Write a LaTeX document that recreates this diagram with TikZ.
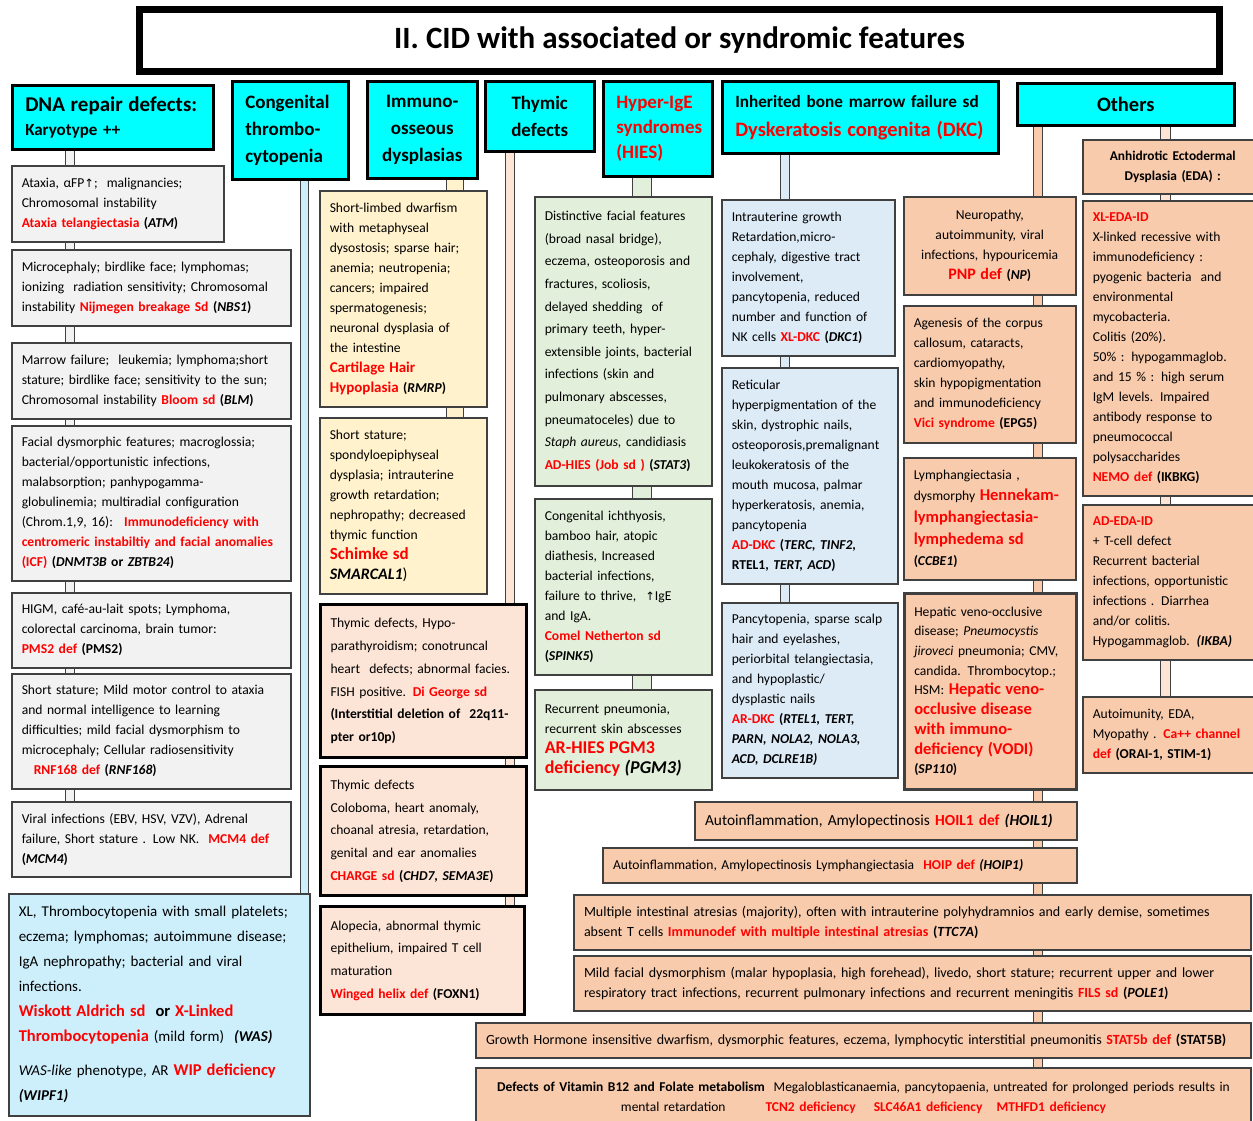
\documentclass[tikz,border=0pt]{standalone}
\usepackage{fontspec}
\setmainfont{Carlito}
\newfontfamily\symfont{DejaVu Sans}
\usetikzlibrary{positioning,backgrounds}

\definecolor{hdrcyan}{HTML}{00FFFF}
\definecolor{boxgray}{HTML}{F2F2F2}
\definecolor{wasblue}{HTML}{CDEFFC}
\definecolor{iocream}{HTML}{FFF2CC}
\definecolor{thypink}{HTML}{FCE4D6}
\definecolor{hiesgreen}{HTML}{E2EFDA}
\definecolor{dkcblue}{HTML}{DDEBF7}
\definecolor{othorange}{HTML}{F8CBAD}
\definecolor{edgegray}{HTML}{404040}
\definecolor{namered}{HTML}{FF0000}

\newcommand{\fs}[2]{\fontsize{#1}{#2}\selectfont}
\newcommand{\dis}[1]{\textcolor{namered}{\textbf{#1}}}
\newcommand{\gen}[1]{\textbf{(\textit{#1})}}
\newcommand{\uparr}{{\symfont\fs{11.5}{12}↑}}

\begin{document}
\begin{tikzpicture}[x=1pt, y=-1pt,
    boxwh/.code 2 args={\pgfmathsetmacro\cellw{#1-20}\tikzset{minimum width=#1pt, minimum height=#2pt, text width=\cellw pt}},
    hdrwh/.code 2 args={\pgfmathsetmacro\cellw{#1-26}\tikzset{minimum width=#1pt, minimum height=#2pt, text width=\cellw pt}},
    txtcell/.style={anchor=north west, inner xsep=10pt, inner ysep=0pt, align=left, font=\fs{13.6}{20}},
    hdr/.style={txtcell, inner xsep=13pt, draw=black, line width=2.5pt, fill=hdrcyan, font=\bfseries\fs{19}{27}},
    graycell/.style={txtcell, draw=edgegray, line width=1.5pt, fill=boxgray},
    wascell/.style={txtcell, draw=edgegray, line width=1.5pt, fill=wasblue},
    creamcell/.style={txtcell, draw=edgegray, line width=1.5pt, fill=iocream},
    pinkcell/.style={txtcell, draw=black, line width=3pt, fill=thypink, font=\fs{13.6}{22.7}},
    greencell/.style={txtcell, draw=edgegray, line width=1.5pt, fill=hiesgreen},
    dkccell/.style={txtcell, draw=edgegray, line width=1.5pt, fill=dkcblue},
    othcell/.style={txtcell, draw=edgegray, line width=1.5pt, fill=othorange},
    pipe/.style={draw=edgegray, line width=1pt, double=#1}]

    \useasboundingbox (0,0) rectangle (1253,1120);

    % Title
    \node[draw=black, line width=7pt, fill=white, minimum width=1080pt, minimum height=62pt,
          font=\bfseries\fs{31}{36}] (title) at (679.5,40.5) {II. CID with associated or syndromic features};

    % Headers
    \node[hdr, hdrwh={201}{64}, font=\bfseries\fs{17}{24}] (dna) at (11,84) {{\fs{21}{24}DNA repair defects:}\\Karyotype ++};
    \node[hdr, hdrwh={116}{98}] (ct) at (231,80) {Congenital\\thrombo-\\cytopenia};
    \node[hdr, hdrwh={110}{97}, align=center] (io) at (366,80) {Immuno-\\osseous\\dysplasias};
    \node[hdr, hdrwh={109}{70}, align=center] (thy) at (484,80) {Thymic\\defects};
    \node[hdr, hdrwh={109}{95}, text=namered, font=\bfseries\fs{19}{25}] (hies) at (602,80) {Hyper-IgE\\syndromes\\(HIES)};
    \node[hdr, hdrwh={276}{72}, inner xsep=12pt, font=\bfseries\fs{17.2}{29}] (dkc) at (721,80) {Inherited bone marrow failure sd\\{\fs{20.5}{29}\color{namered}Dyskeratosis congenita (DKC)}};
    \node[hdr, hdrwh={217}{42}, align=center, font=\bfseries\fs{20.5}{24}] (oth) at (1016,82) {Others};

    % DNA repair defects
    \node[graycell, boxwh={212}{76}] (g1) at (11,165) {Ataxia, αFP\uparr; \ malignancies;\\Chromosomal instability\\\dis{Ataxia telangiectasia} \gen{ATM}};
    \node[graycell, boxwh={279}{76}] (g2) at (11,249) {Microcephaly; birdlike face; lymphomas;\\ionizing \ radiation sensitivity; Chromosomal\\instability \dis{Nijmegen breakage Sd} \gen{NBS1}};
    \node[graycell, boxwh={279}{76}] (g3) at (11,342) {Marrow failure; \ leukemia; lymphoma;short\\stature; birdlike face; sensitivity to the sun;\\Chromosomal instability \dis{Bloom sd} \gen{BLM}};
    \node[graycell, boxwh={279}{155}] (g4) at (11,425) {Facial dysmorphic features; macroglossia;\\bacterial/opportunistic infections,\\malabsorption; panhypogamma-\\globulinemia; multiradial configuration\\(Chrom.1,9, 16): \ \dis{Immunodeficiency with}\\\dis{centromeric instabiltiy and facial anomalies}\\\dis{(ICF)} \textbf{(\textit{DNMT3B} or \textit{ZBTB24})}};
    \node[graycell, boxwh={279}{75}] (g5) at (11,592) {HIGM, café-au-lait spots; Lymphoma,\\colorectal carcinoma, brain tumor:\\\dis{PMS2 def} \textbf{(PMS2)}};
    \node[graycell, boxwh={279}{115}] (g6) at (11,673) {Short stature; Mild motor control to ataxia\\and normal intelligence to learning\\difficulties; mild facial dysmorphism to\\microcephaly; Cellular radiosensitivity\\\hspace*{12pt}\dis{RNF168 def} \gen{RNF168}};
    \node[graycell, boxwh={279}{75}] (g7) at (11,801) {Viral infections (EBV, HSV, VZV), Adrenal\\failure, Short stature . Low NK. \ \dis{MCM4 def}\\\gen{MCM4}};

    % Congenital thrombocytopenia
    \node[wascell, boxwh={301}{222}, font=\fs{15}{25}] (was) at (8,893) {XL, Thrombocytopenia with small platelets;\\eczema; lymphomas; autoimmune disease;\\IgA nephropathy; bacterial and viral\\infections.\\{\fs{16.5}{22}\dis{Wiskott Aldrich sd} \ \textbf{or} \dis{X-Linked}}\\{\fs{16.5}{22}\dis{Thrombocytopenia}} (mild form) \ \textbf{\textit{(WAS)}}\\[9pt]\textit{WAS-like} phenotype, AR {\fs{16.5}{22}\dis{WIP deficiency}}\\\textbf{\textit{(WIPF1)}}};

    % Immuno-osseous dysplasias
    \node[creamcell, boxwh={167}{216}] (y1) at (319,190) {Short-limbed dwarfism\\with metaphyseal\\dysostosis; sparse hair;\\anemia; neutropenia;\\cancers; impaired\\spermatogenesis;\\neuronal dysplasia of\\the intestine\\{\fs{15}{20}\dis{Cartilage Hair}}\\{\fs{15}{20}\dis{Hypoplasia}} \gen{RMRP}};
    \node[creamcell, boxwh={167}{176}] (y2) at (319,417) {Short stature;\\spondyloepiphyseal\\dysplasia; intrauterine\\growth retardation;\\nephropathy; decreased\\thymic function\\{\fs{17}{20}\dis{Schimke sd}}\\{\fs{16}{20}\textbf{\textit{SMARCAL1}})}};

    % Thymic defects
    \node[pinkcell, boxwh={206}{153}] (p1) at (319,603) {Thymic defects, Hypo-\\parathyroidism; conotruncal\\heart \ defects; abnormal facies.\\FISH positive. \dis{Di George sd}\\\textbf{(Interstitial deletion of \ 22q11-}\\\textbf{pter or10p)}};
    \node[pinkcell, boxwh={206}{129}] (p2) at (319,765) {Thymic defects\\Coloboma, heart anomaly,\\choanal atresia, retardation,\\genital and ear anomalies\\\dis{CHARGE sd} \gen{CHD7, SEMA3E}};
    \node[pinkcell, boxwh={204}{108}] (p3) at (319,905) {Alopecia, abnormal thymic\\epithelium, impaired T cell\\maturation\\\dis{Winged helix def} \textbf{(FOXN1)}};

    % Hyper-IgE syndromes
    \node[greencell, boxwh={177}{289}, font=\fs{13.6}{22.6}] (h1) at (534,196) {Distinctive facial features\\(broad nasal bridge),\\eczema, osteoporosis and\\fractures, scoliosis,\\delayed shedding \ of\\primary teeth, hyper-\\extensible joints, bacterial\\infections (skin and\\pulmonary abscesses,\\pneumatoceles) due to\\\textit{Staph aureus,} candidiasis\\\dis{AD-HIES (Job sd )} \gen{STAT3}};
    \node[greencell, boxwh={177}{176}] (h2) at (534,498) {Congenital ichthyosis,\\bamboo hair, atopic\\diathesis, Increased\\bacterial infections,\\failure to thrive, \ \uparr IgE\\and IgA.\\\dis{Comel Netherton sd}\\\gen{SPINK5}};
    \node[greencell, boxwh={177}{100}] (h3) at (534,689) {Recurrent pneumonia,\\recurrent skin abscesses\\{\fs{18}{22}\dis{AR-HIES PGM3}}\\{\fs{18}{22}\dis{deficiency} \textbf{\textit{(PGM3)}}}};

    % Dyskeratosis congenita
    \node[dkccell, boxwh={173}{156}] (b1) at (721,199) {Intrauterine growth\\Retardation,micro-\\cephaly, digestive tract\\involvement,\\pancytopenia, reduced\\number and function of\\NK cells \dis{XL-DKC} \gen{DKC1}};
    \node[dkccell, boxwh={176}{216}] (b2) at (721,367) {Reticular\\hyperpigmentation of the\\skin, dystrophic nails,\\osteoporosis,premalignant\\leukokeratosis of the\\mouth mucosa, palmar\\hyperkeratosis, anemia,\\pancytopenia\\\dis{AD-DKC} \textbf{(\textit{TERC, TINF2,}}\\\textbf{RTEL1, \textit{TERT, ACD})}};
    \node[dkccell, boxwh={176}{175}] (b3) at (721,602) {Pancytopenia, sparse scalp\\hair and eyelashes,\\periorbital telangiectasia,\\and hypoplastic/\\dysplastic nails\\\dis{AR-DKC} \textbf{(\textit{RTEL1, TERT,}}\\\textbf{\textit{PARN, NOLA2, NOLA3,}}\\\textbf{\textit{ACD, DCLRE1B)}}};

    % Others
    \node[othcell, boxwh={172}{98}, align=center] (o1) at (903,196) {Neuropathy,\\autoimmunity, viral\\infections, hypouricemia\\{\fs{16}{20}\dis{PNP def}} \gen{NP}};
    \node[othcell, boxwh={172}{137}] (o2) at (903,305) {Agenesis of the corpus\\callosum, cataracts,\\cardiomyopathy,\\skin hypopigmentation\\and immunodeficiency\\\dis{Vici syndrome} \textbf{(EPG5)}};
    \node[othcell, boxwh={172}{122}, font=\fs{13.6}{21.7}] (o3) at (903,457) {Lymphangiectasia ,\\dysmorphy {\fs{16.5}{22}\dis{Hennekam-}}\\{\fs{16.5}{22}\dis{lymphangiectasia-}}\\{\fs{16.5}{22}\dis{lymphedema sd}}\\\gen{CCBE1}};
    \node[othcell, boxwh={172}{196}, line width=2.5pt, font=\fs{13.6}{19.7}] (o4) at (903,592) {Hepatic veno-occlusive\\disease; \textit{Pneumocystis}\\\textit{jiroveci} pneumonia; CMV,\\candida. Thrombocytop.;\\HSM: {\fs{16.5}{20}\dis{Hepatic veno-}}\\{\fs{16.5}{20}\dis{occlusive disease}}\\{\fs{16.5}{20}\dis{with immuno-}}\\{\fs{16.5}{20}\dis{deficiency (VODI)}}\\\gen{SP110}};

    \node[othcell, boxwh={180}{54}, align=center, font=\bfseries\fs{13.4}{20}] (e1) at (1082,139) {Anhidrotic Ectodermal\\Dysplasia (EDA) :};
    \node[othcell, boxwh={180}{295}] (e2) at (1082,200) {\dis{XL-EDA-ID}\\X-linked recessive with\\immunodeficiency :\\pyogenic bacteria \ and\\environmental\\mycobacteria.\\Colitis (20\%).\\50\% : hypogammaglob.\\and 15 \% : high serum\\IgM levels. Impaired\\antibody response to\\pneumococcal\\polysaccharides\\\dis{NEMO def} \textbf{(IKBKG)}};
    \node[othcell, boxwh={180}{155}] (e3) at (1082,504) {\dis{AD-EDA-ID}\\+ T-cell defect\\Recurrent bacterial\\infections, opportunistic\\infections . Diarrhea\\and/or colitis.\\Hypogammaglob. \textbf{\textit{(IKBA)}}};
    \node[othcell, boxwh={180}{76}] (e4) at (1082,696) {Autoimunity, EDA,\\Myopathy . \dis{Ca++ channel}\\\dis{def} \textbf{(ORAI-1, STIM-1)}};

    % Wide boxes
    \node[othcell, boxwh={382}{38}, line width=2pt, font=\fs{15.4}{20}] (w1) at (694,801) {Autoinflammation, Amylopectinosis \dis{HOIL1 def} \textbf{\textit{(HOIL1)}}};
    \node[othcell, boxwh={474}{35}, line width=2pt] (w2) at (602,847) {Autoinflammation, Amylopectinosis Lymphangiectasia \ \dis{HOIP def} \textbf{\textit{(HOIP1)}}};
    \node[othcell, boxwh={677}{55}, line width=2pt, font=\fs{14}{20}] (w3) at (573,894) {Multiple intestinal atresias (majority), often with intrauterine polyhydramnios and early demise, sometimes\\absent T cells \dis{Immunodef with multiple intestinal atresias} \gen{TTC7A}};
    \node[othcell, boxwh={677}{55}, line width=2pt, font=\fs{14}{20}] (w4) at (573,955) {Mild facial dysmorphism (malar hypoplasia, high forehead), livedo, short stature; recurrent upper and lower\\respiratory tract infections, recurrent pulmonary infections and recurrent meningitis \dis{FILS sd} \gen{POLE1}};
    \node[othcell, boxwh={775}{35}, line width=2pt, font=\fs{14}{20}] (w5) at (475,1022) {Growth Hormone insensitive dwarfism, dysmorphic features, eczema, lymphocytic interstitial pneumonitis \dis{STAT5b def} \textbf{(STAT5B)}};
    \node[othcell, boxwh={775}{60}, line width=2pt, align=center, font=\fs{13.5}{20}] (w6) at (475,1067) {\textbf{Defects of Vitamin B12 and Folate metabolism} \ Megaloblasticanaemia, pancytopaenia, untreated for prolonged periods results in\\mental retardation\hspace{40pt}\dis{TCN2 deficiency}\hspace{18pt}\dis{SLC46A1 deficiency}\hspace{14pt}\dis{MTHFD1 deficiency}};

    % Pipes
    \coordinate (dnax) at (70,0);
    \coordinate (ctx) at (304.5,0);
    \coordinate (iox) at (455,0);
    \coordinate (thyx) at (510,0);
    \coordinate (hiesx) at (642,0);
    \coordinate (dkcx) at (785,0);
    \coordinate (othx) at (1038,0);
    \coordinate (edax) at (1165.5,0);
    \begin{scope}[on background layer]
        \draw[pipe=boxgray, double distance=8pt] (dna.south -| dnax) -- (g7.north -| dnax);
        \draw[pipe=wasblue, double distance=7pt] (ct.south -| ctx) -- (was.north -| ctx);
        \draw[pipe=iocream, double distance=16pt] (io.south -| iox) -- (y2.north -| iox);
        \draw[pipe=thypink, double distance=8pt] (thy.south -| thyx) -- (p3.north -| thyx);
        \draw[pipe=hiesgreen, double distance=18pt] (hies.south -| hiesx) -- (h3.north -| hiesx);
        \draw[pipe=dkcblue, double distance=8pt] (dkc.south -| dkcx) -- (b3.north -| dkcx);
        \draw[pipe=othorange, double distance=8pt] (oth.south -| othx) -- (w6.north -| othx);
        \draw[pipe=thypink, double distance=9pt] (oth.south -| edax) -- (e4.north -| edax);
    \end{scope}
\end{tikzpicture}
\end{document}
